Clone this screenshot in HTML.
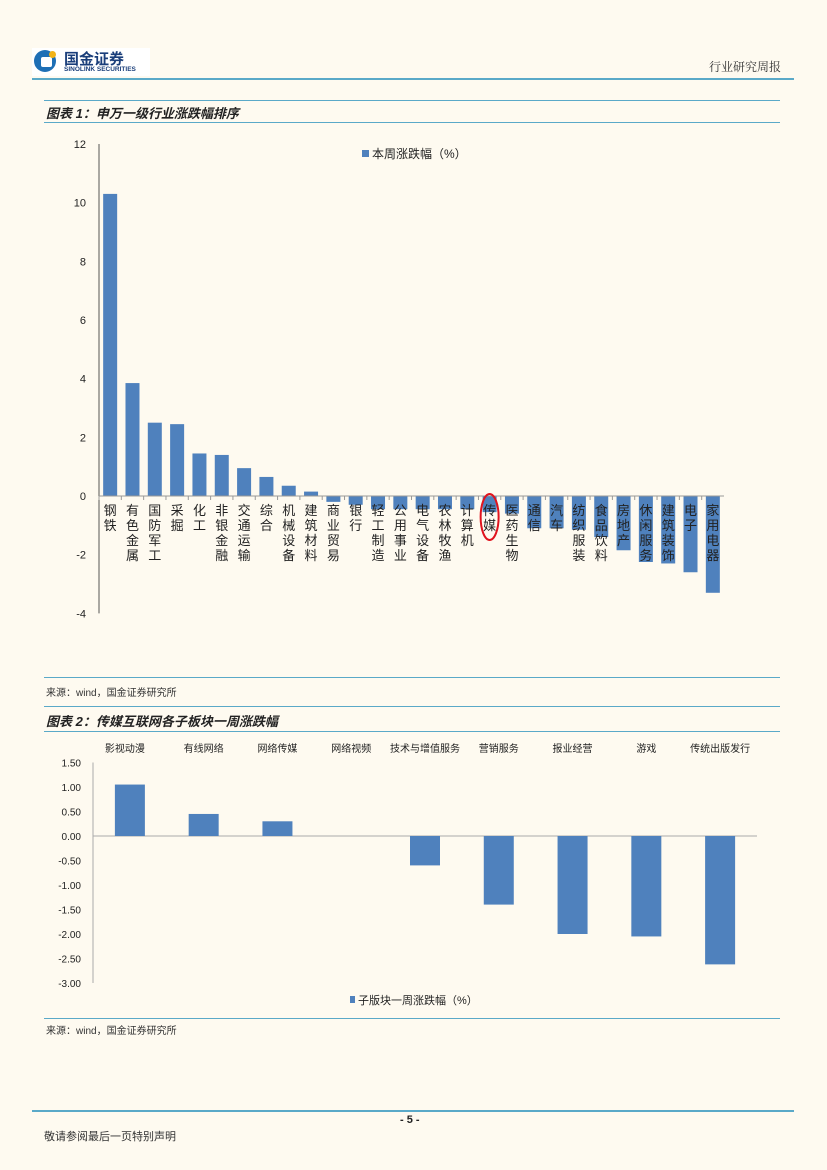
<!DOCTYPE html>
<html><head><meta charset="utf-8">
<style>
body{margin:0;background:#fefaf0;}
#page{position:relative;width:827px;height:1170px;background:#fefaf0;overflow:hidden;font-family:"Liberation Sans","Noto Sans CJK SC",sans-serif;}
.hl{position:absolute;height:2px;background:#5aa9c8;}
.t{position:absolute;white-space:nowrap;}
</style></head>
<body>
<div id="page">
  <div style="position:absolute;left:32px;top:48px;width:118px;height:28px;background:#fff;">
    <div style="position:absolute;left:2px;top:2px;width:22px;height:22px;border-radius:50%;background:#1e6fb5;"></div>
    <div style="position:absolute;left:9px;top:9px;width:11px;height:10px;background:#fff;border-radius:2px;"></div>
    <div style="position:absolute;left:17px;top:3px;width:7px;height:7px;border-radius:50%;background:#f2b318;"></div>
    <div class="t" style="left:32px;top:0px;font-size:15px;font-weight:bold;color:#1a3e7a;">国金证券</div>
    <div class="t" style="left:32px;top:18px;font-size:6.5px;font-weight:bold;color:#1a3e7a;">SINOLINK SECURITIES</div>
  </div>
  <div class="t" style="left:709px;top:58px;font-size:12px;color:#333;font-family:'Noto Serif CJK SC',serif;">行业研究周报</div>
  <div class="hl" style="left:32px;top:78px;width:762px;"></div>

  <div class="hl" style="left:44px;top:100px;width:736px;height:1px;"></div>
  <div class="t" style="left:46px;top:103px;font-size:13px;font-weight:bold;font-style:italic;color:#222;">图表 1：申万一级行业涨跌幅排序</div>
  <div class="hl" style="left:44px;top:122px;width:736px;height:1px;"></div>

  <svg id="c1" style="position:absolute;left:0;top:0" width="827" height="680"></svg>

  <div class="hl" style="left:44px;top:677px;width:736px;height:1px;"></div>
  <div class="t" style="left:46px;top:684px;font-size:10px;color:#333;">来源：wind，国金证券研究所</div>
  <div class="hl" style="left:44px;top:706px;width:736px;height:1px;"></div>
  <div class="t" style="left:46px;top:711px;font-size:13px;font-weight:bold;font-style:italic;color:#222;">图表 2：传媒互联网各子板块一周涨跌幅</div>
  <div class="hl" style="left:44px;top:731px;width:736px;height:1px;"></div>

  <svg id="c2" style="position:absolute;left:0;top:731px" width="827" height="290"></svg>

  <div class="hl" style="left:44px;top:1018px;width:736px;height:1px;"></div>
  <div class="t" style="left:46px;top:1022px;font-size:10px;color:#333;">来源：wind，国金证券研究所</div>

  <div class="hl" style="left:32px;top:1110px;width:762px;"></div>
  <div class="t" style="left:400px;top:1114px;font-size:11px;font-weight:bold;color:#222;">- 5 -</div>
  <div class="t" style="left:44px;top:1128px;font-size:11px;color:#333;">敬请参阅最后一页特别声明</div>
</div>
<script>
const cats1=["钢铁","有色金属","国防军工","采掘","化工","非银金融","交通运输","综合","机械设备","建筑材料","商业贸易","银行","轻工制造","公用事业","电气设备","农林牧渔","计算机","传媒","医药生物","通信","汽车","纺织服装","食品饮料","房地产","休闲服务","建筑装饰","电子","家用电器"];
const vals1=[10.3,3.85,2.5,2.45,1.45,1.4,0.95,0.65,0.35,0.15,-0.2,-0.3,-0.45,-0.45,-0.45,-0.45,-0.45,-0.55,-0.6,-1.1,-1.1,-1.15,-1.4,-1.85,-2.25,-2.3,-2.6,-3.3];
const ticks1=[12,10,8,6,4,2,0,-2,-4];
const cats2=["影视动漫","有线网络","网络传媒","网络视频","技术与增值服务","营销服务","报业经营","游戏","传统出版发行"];
const vals2=[1.05,0.45,0.3,0,-0.6,-1.4,-2.0,-2.05,-2.62];
const ticks2=[1.5,1.0,0.5,0,-0.5,-1.0,-1.5,-2.0,-2.5,-3.0];
const NS="http://www.w3.org/2000/svg";
function mk(svg,tag,a){const e=document.createElementNS(NS,tag);for(const k in a)e.setAttribute(k,a[k]);svg.appendChild(e);return e;}
const FF='"Liberation Sans","Noto Sans CJK SC",sans-serif';
// chart 1
(function(){
const svg=document.getElementById('c1');
const x0=99,x1=724,y=v=>496-v*29.33;const bw=(x1-x0)/cats1.length;
mk(svg,'line',{x1:x0,y1:y(12),x2:x0,y2:y(-4),stroke:'#555','stroke-width':1});
ticks1.forEach(t=>{const e=mk(svg,'text',{x:86,y:y(t)+4,'text-anchor':'end','font-size':11,fill:'#222','font-family':FF});e.textContent=t;

});
vals1.forEach((v,i)=>{const cx=x0+bw*(i+0.5);const r=mk(svg,'rect',{x:cx-7,y:Math.min(y(v),y(0)),width:14,height:Math.abs(y(v)-y(0)),fill:'#4f81bd'});

});
mk(svg,'line',{x1:x0,y1:y(0),x2:x1,y2:y(0),stroke:'#999','stroke-width':1});
cats1.forEach((c,i)=>{const cx=x0+bw*(i+0.5);
mk(svg,'line',{x1:x0+bw*i,y1:y(0),x2:x0+bw*i,y2:y(0)+4,stroke:'#999'});
[...c].forEach((ch,j)=>{const t=mk(svg,'text',{x:cx,y:y(0)+19+j*15,'text-anchor':'middle','font-size':13,fill:'#222','font-family':FF});t.textContent=ch;

});});
const hi=cats1.indexOf('传媒');const ex=x0+bw*(hi+0.5);
const el=mk(svg,'ellipse',{cx:ex,cy:517,rx:9,ry:23,fill:'none',stroke:'#e0141e','stroke-width':2});


mk(svg,'rect',{x:362,y:150,width:7,height:7,fill:'#4f81bd'});
const lg=mk(svg,'text',{x:372,y:158,'font-size':12,fill:'#222','font-family':FF});lg.textContent='本周涨跌幅（%）';


})();
// chart 2
(function(){
const svg=document.getElementById('c2');
const x0=93,x1=757,y=v=>105-v*49;const bw=(x1-x0)/cats2.length;
mk(svg,'line',{x1:x0,y1:y(1.5),x2:x0,y2:y(-3),stroke:'#aaa'});
ticks2.forEach(t=>{const e=mk(svg,'text',{x:81,y:y(t)+4,'text-anchor':'end','font-size':10,fill:'#222','font-family':FF});e.textContent=t.toFixed(2);

});
mk(svg,'line',{x1:x0,y1:y(0),x2:x1,y2:y(0),stroke:'#aaa'});
vals2.forEach((v,i)=>{const cx=x0+bw*(i+0.5);
if(v!==0){const r=mk(svg,'rect',{x:cx-15,y:Math.min(y(v),y(0)),width:30,height:Math.abs(y(v)-y(0)),fill:'#4f81bd'});

}
const t=mk(svg,'text',{x:cx+(i==0?-5:0),y:21,'text-anchor':'middle','font-size':10,fill:'#222','font-family':FF});t.textContent=cats2[i];

});
mk(svg,'rect',{x:350,y:265,width:5,height:7,fill:'#4f81bd'});
const lg=mk(svg,'text',{x:358,y:273,'font-size':11,fill:'#222','font-family':FF});lg.textContent='子版块一周涨跌幅（%）';


})();
</script>
</body></html>
